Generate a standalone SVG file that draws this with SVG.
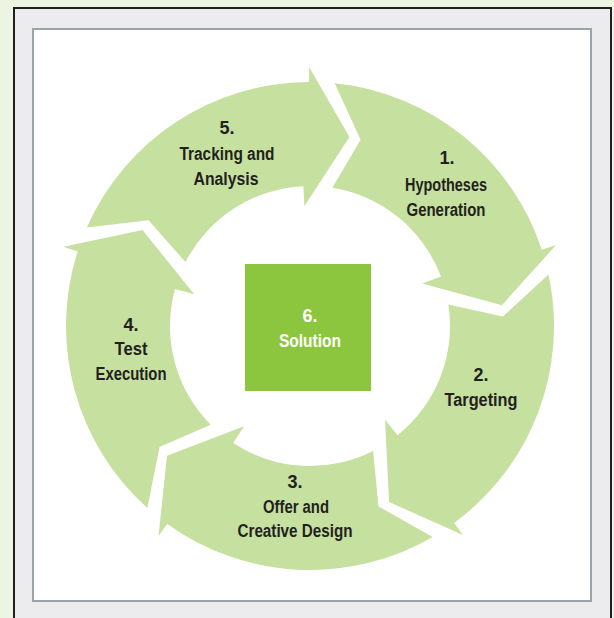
<svg xmlns="http://www.w3.org/2000/svg" width="614" height="618" viewBox="0 0 614 618">
<defs>
<style>
.seg{fill:#c6e09f;}
.lbl{font-family:"Liberation Sans Narrow","Liberation Sans",Arial,sans-serif;font-weight:bold;font-size:18px;fill:#231f20;text-anchor:middle;}
.wl{fill:#ffffff;}
</style>
<path id="arrowSeg" d="M284.50,83.34 A244,244 0 0 1 521.31,204.00 L534.30,196.50 L493.55,266.36 L411.21,261.52 L428.07,250.78 A140,140 0 0 0 303.65,186.14 L321.45,133.34 Z"/>
</defs>
<rect x="0" y="0" width="614" height="618" fill="#edf4e2"/>
<rect x="14" y="8" width="597" height="620" fill="#ececee" stroke="#231f20" stroke-width="2"/>
<rect x="33" y="29" width="558" height="572" fill="#ffffff" stroke="#9aa3a9" stroke-width="2"/>
<g id="connectors"></g>
<g id="node1">
<use href="#arrowSeg" class="seg" transform="rotate(11.8 310 326)"/>
<text class="lbl" x="447" y="164">1.</text>
<text class="lbl" x="446" y="191" textLength="82" lengthAdjust="spacingAndGlyphs">Hypotheses</text>
<text class="lbl" x="446" y="216" textLength="79" lengthAdjust="spacingAndGlyphs">Generation</text>
</g>
<g id="node2">
<use href="#arrowSeg" class="seg" transform="rotate(83.8 310 326)"/>
<text class="lbl" x="481" y="381">2.</text>
<text class="lbl" x="481" y="406" textLength="73" lengthAdjust="spacingAndGlyphs">Targeting</text>
</g>
<g id="node3">
<use href="#arrowSeg" class="seg" transform="rotate(155.8 310 326)"/>
<text class="lbl" x="295" y="488">3.</text>
<text class="lbl" x="296" y="513" textLength="66" lengthAdjust="spacingAndGlyphs">Offer and</text>
<text class="lbl" x="295" y="537" textLength="115" lengthAdjust="spacingAndGlyphs">Creative Design</text>
</g>
<g id="node4">
<use href="#arrowSeg" class="seg" transform="rotate(227.8 310 326)"/>
<text class="lbl" x="131" y="331">4.</text>
<text class="lbl" x="131" y="355" textLength="33" lengthAdjust="spacingAndGlyphs">Test</text>
<text class="lbl" x="131" y="380" textLength="71" lengthAdjust="spacingAndGlyphs">Execution</text>
</g>
<g id="node5">
<use href="#arrowSeg" class="seg" transform="rotate(299.8 310 326)"/>
<text class="lbl" x="227" y="134">5.</text>
<text class="lbl" x="227" y="160" textLength="95" lengthAdjust="spacingAndGlyphs">Tracking and</text>
<text class="lbl" x="226" y="185" textLength="65" lengthAdjust="spacingAndGlyphs">Analysis</text>
</g>
<g id="node6">
<rect x="245" y="264" width="126" height="127" fill="#8cc63f"/>
<text class="lbl wl" x="310" y="322">6.</text>
<text class="lbl wl" x="310" y="347" textLength="62" lengthAdjust="spacingAndGlyphs">Solution</text>
</g>
</svg>
